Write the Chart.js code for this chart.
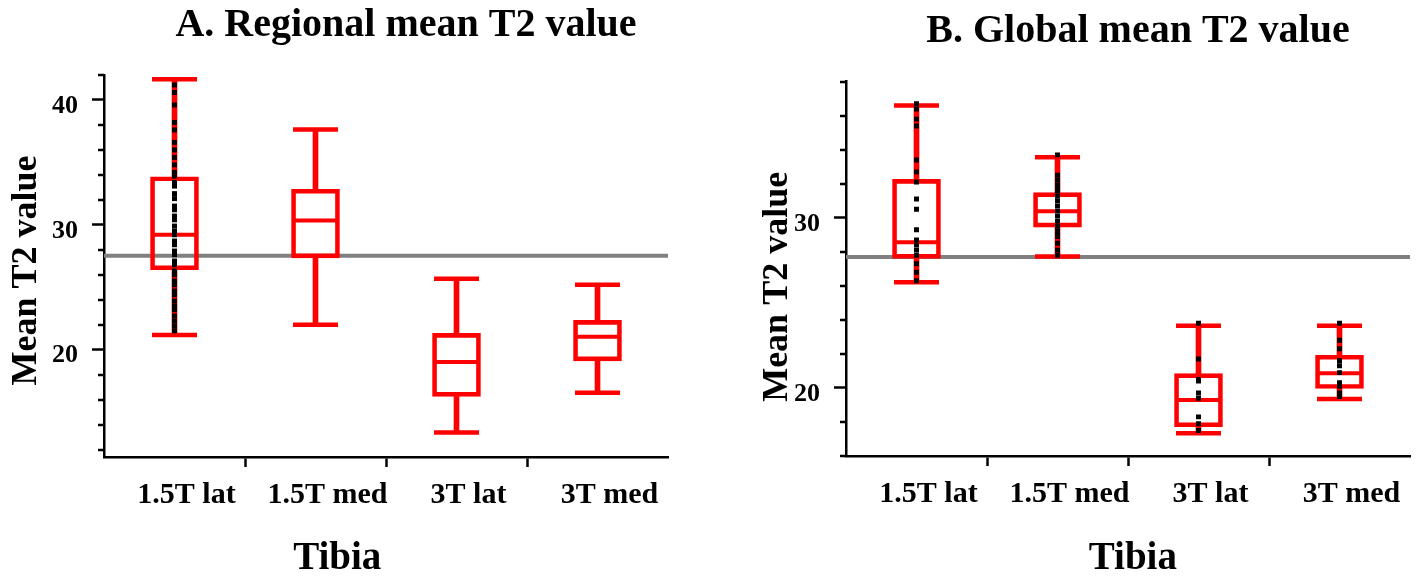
<!DOCTYPE html>
<html><head><meta charset="utf-8">
<script src="https://cdn.jsdelivr.net/npm/chart.js@4.4.1/dist/chart.umd.min.js"></script>
<style>
html,body{margin:0;padding:0;background:#fff;overflow:hidden;}
#wrap{position:relative;width:1416px;height:576px;}
.panel{position:absolute;top:0;width:708px;height:576px;}
</style></head><body>
<div id="wrap">
<div class="panel" style="left:0"><canvas id="cA" width="708" height="576"></canvas></div>
<div class="panel" style="left:708px"><canvas id="cB" width="708" height="576"></canvas></div>
</div>
<script>
const categories = ['1.5T lat', '1.5T med', '3T lat', '3T med'];

// Panel A: Regional mean T2 value
const aTitle = 'A. Regional mean T2 value';
const aMin = [21.17, 22.0, 13.36, 16.54];
const aQ1 = [26.4, 27.35, 16.25, 19.1];
const aMed = [29.2, 30.35, 19.0, 21.04];
const aQ3 = [33.85, 32.85, 21.3, 22.35];
const aMax = [41.65, 37.63, 25.68, 25.2];
const aRef = 27.52;
const aDots = [
  [41.2, 40.6, 39.6, 38.2, 37.6, 36.6, 36.0, 35.4, 34.8, 34.2, 33.9, 33.4, 33.1, 32.5, 32.1, 31.5, 31.2, 30.7, 30.4, 29.9, 29.5, 29.2, 28.7, 28.4, 27.9, 27.6, 27.1, 26.8, 26.3, 26.0, 25.5, 25.2, 24.7, 24.4, 23.9, 23.5, 23.2, 22.7, 22.3, 21.9, 21.5],
  [], [], []
];
const aYMin = 11.4, aYMax = 42;
const majorStep = 10;
const aMinorTicks = [12, 14, 16, 18, 22, 24, 26, 28, 32, 34, 36, 38, 42];

// Panel B: Global mean T2 value
const bTitle = 'B. Global mean T2 value';
const bMin = [26.21, 27.72, 17.33, 19.35];
const bQ1 = [27.62, 29.45, 17.72, 19.97];
const bMed = [28.56, 30.39, 19.29, 20.86];
const bQ3 = [32.26, 31.48, 20.84, 21.92];
const bMax = [36.6, 33.56, 23.66, 23.66];
const bRef = 27.7;
const bDots = [
  [36.7, 36.4, 35.8, 35.4, 33.4, 32.7, 32.1, 31.1, 30.5, 29.3, 28.7, 28.4, 28.1, 27.8, 27.3, 26.8, 26.3],
  [33.7, 32.5, 32.2, 31.9, 31.6, 31.3, 31.0, 30.7, 30.4, 30.1, 29.8, 29.5, 29.2, 28.9, 28.5, 28.1, 27.8],
  [23.8, 21.7, 20.5, 20.4, 19.7, 19.4, 18.3, 17.9, 17.5],
  [23.8, 22.8, 22.3, 21.6, 21.3, 20.9, 20.3, 20.1, 19.7, 19.5]
];
const bYMin = 16, bYMax = 38;
const bMinorTicks = [16, 18, 22, 24, 26, 28, 32, 34, 36, 38];

const yTitleText = 'Mean T2 value';
const xTitleText = 'Tibia';

const FONT = "'Liberation Serif', 'Times New Roman', Times, serif";
const RED = '#ff0000';
const NB = '\u00a0';

const minorTickPlugin = {
  id: 'minorTicks',
  afterDraw(chart, args, opts) {
    const y = chart.scales.y;
    const ctx = chart.ctx;
    ctx.save();
    ctx.strokeStyle = '#000';
    ctx.lineWidth = 2.5;
    ctx.beginPath();
    for (const v of opts.values) {
      const py = Math.round(y.getPixelForValue(v));
      ctx.moveTo(y.right - 6, py);
      ctx.lineTo(y.right, py);
    }
    ctx.stroke();
    ctx.restore();
  }
};

function makeChart(id, d) {
  const dots = d.dots.flatMap((arr, i) => arr.map(v => ({x: categories[i], y: v})));
  return new Chart(document.getElementById(id), {
    type: 'bar',
    data: {
      labels: categories,
      datasets: [
        {type: 'line', label: 'reference', data: [{x: 0, y: d.ref}, {x: 1, y: d.ref}], xAxisID: 'xr',
         borderColor: '#808080', borderWidth: 4, pointRadius: 0, order: 10},
        {type: 'bar', label: 'lower whisker', data: d.min.map((v, i) => [v, d.q1[i]]),
         backgroundColor: RED, borderWidth: 0, barThickness: 5, grouped: false, order: 6},
        {type: 'bar', label: 'upper whisker', data: d.q3.map((v, i) => [v, d.max[i]]),
         backgroundColor: RED, borderWidth: 0, barThickness: 5, grouped: false, order: 6},
        {type: 'bar', label: 'box', data: d.q1.map((v, i) => [v, d.q3[i]]),
         backgroundColor: 'rgba(0,0,0,0)', borderColor: RED, borderWidth: 4, borderSkipped: false,
         barThickness: 48, grouped: false, order: 5},
        {type: 'line', label: 'median', data: d.med, showLine: false, pointStyle: 'line',
         pointRadius: 22, pointBorderWidth: 4, pointBorderColor: RED, borderColor: RED, order: 4},
        {type: 'line', label: 'min', data: d.min, showLine: false, pointStyle: 'line',
         pointRadius: 22.5, pointBorderWidth: 4.5, pointBorderColor: RED, borderColor: RED, order: 4},
        {type: 'line', label: 'max', data: d.max, showLine: false, pointStyle: 'line',
         pointRadius: 22.5, pointBorderWidth: 4.5, pointBorderColor: RED, borderColor: RED, order: 4},
        {type: 'line', label: 'values', data: dots, showLine: false, pointStyle: 'rect',
         pointRadius: 3.5, pointBorderWidth: 0, pointBackgroundColor: '#000', borderColor: '#000', order: 0}
      ]
    },
    options: {
      responsive: false,
      animation: false,
      layout: {autoPadding: false, padding: {left: 0, right: d.padRight, top: 0, bottom: 0}},
      plugins: {
        legend: {display: false},
        tooltip: {enabled: false},
        title: {display: true, text: d.title, fullSize: false, color: '#000',
                font: {family: FONT, size: 40, weight: 'bold'}, padding: d.titlePad},
        minorTicks: {values: d.minor}
      },
      scales: {
        x: {
          type: 'category', offset: true,
          grid: {offset: true, drawOnChartArea: false, drawTicks: true, tickLength: 10, tickWidth: 2.5,
                 tickColor: c => (c.index === undefined || c.index === 0) ? 'rgba(0,0,0,0)' : '#000'},
          border: {display: true, color: '#000', width: 2.5},
          ticks: {font: {family: FONT, size: 30, weight: 'bold'}, color: '#000', padding: 10,
                  labelOffset: 12, maxRotation: 0, autoSkip: false},
          title: {display: true, text: d.xTitle, color: '#000',
                  font: {family: FONT, size: 39, weight: 'bold', lineHeight: 0.87}, padding: 0},
          afterFit: s => { s.height = d.xHeight; s.paddingLeft = 0; s.paddingRight = 0; }
        },
        xr: {type: 'linear', display: false, offset: false, min: 0, max: 1,
             grid: {offset: false}},
        y: {
          min: d.yMin, max: d.yMax,
          grid: {drawOnChartArea: false, tickLength: 12, tickWidth: 2.5, tickColor: '#000'},
          border: {display: true, color: '#000', width: 2.5},
          ticks: {stepSize: majorStep, includeBounds: false, color: '#000', padding: 14, labelOffset: 6,
                  font: {family: FONT, size: 26, weight: 'bold'}},
          title: {display: true, text: d.yTitle, color: '#000',
                  font: {family: FONT, size: 36, weight: 'bold'}, padding: {top: d.yTitlePad, bottom: 0}},
          afterFit: s => { s.width = d.yWidth; s.paddingTop = 0; s.paddingBottom = 0; }
        }
      }
    },
    plugins: [minorTickPlugin]
  });
}

makeChart('cA', {
  title: NB.repeat(4) + aTitle, titlePad: {top: 1.8, bottom: 25.2},
  min: aMin, q1: aQ1, med: aMed, q3: aQ3, max: aMax, ref: aRef, dots: aDots,
  yMin: aYMin, yMax: aYMax, minor: aMinorTicks,
  yTitle: yTitleText + NB, yTitlePad: 5.4, yWidth: 104,
  xTitle: xTitleText + NB.repeat(10), xHeight: 119, padRight: 40
});
makeChart('cB', {
  title: NB.repeat(2) + bTitle, titlePad: {top: 7.8, bottom: 25.9},
  min: bMin, q1: bQ1, med: bMed, q3: bQ3, max: bMax, ref: bRef, dots: bDots,
  yMin: bYMin, yMax: bYMax, minor: bMinorTicks,
  yTitle: yTitleText + NB.repeat(4), yTitlePad: 48.3, yWidth: 138,
  xTitle: NB + xTitleText, xHeight: 120, padRight: 6
});
</script>
</body></html>
